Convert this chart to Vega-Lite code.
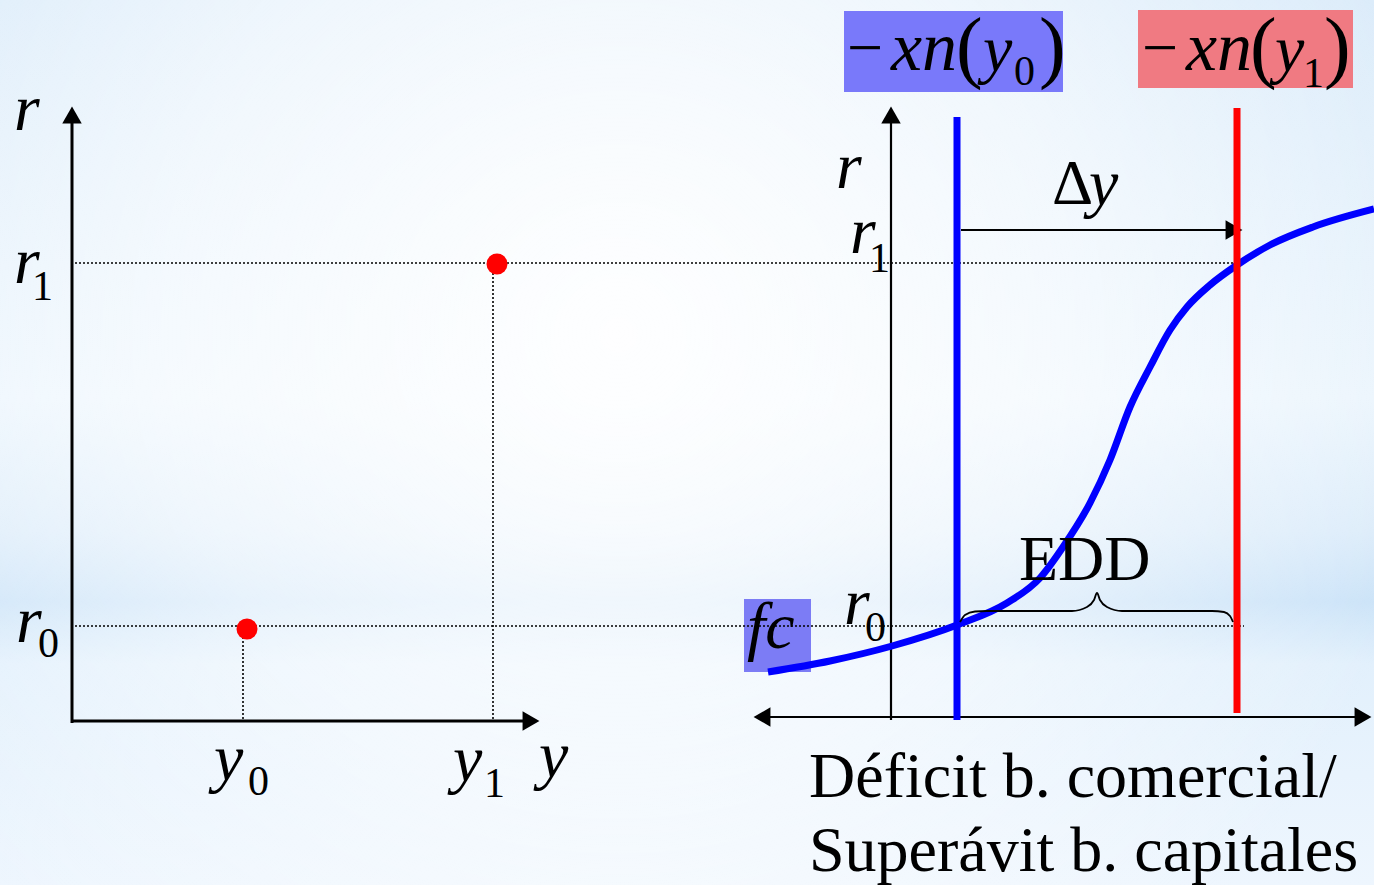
{
  "$schema": "https://vega.github.io/schema/vega-lite/v6.json",
  "width": 1374,
  "height": 885,
  "autosize": {"type": "none"},
  "padding": 0,
  "background": "#e2effb",
  "config": {"view": {"stroke": null}},
  "encoding": {
    "x": {"field": "x", "type": "quantitative", "scale": {"domain": [0, 1374], "nice": false, "zero": false}, "axis": null},
    "y": {"field": "y", "type": "quantitative", "scale": {"domain": [0, 885], "nice": false, "zero": false, "reverse": true}, "axis": null}
  },
  "layer": [
    {
      "data": {"values": [{"x": 0, "y": 0, "x2": 1374, "y2": 885}]},
      "mark": {"type": "rect", "color": {"gradient": "linear", "x1": 0, "y1": 0, "x2": 0, "y2": 1, "stops": [
        {"offset": 0, "color": "#dcecfa"},
        {"offset": 0.45, "color": "#ebf5fd"},
        {"offset": 0.6, "color": "#dcecfa"},
        {"offset": 0.68, "color": "#cbe3f8"},
        {"offset": 0.75, "color": "#e2f0fc"},
        {"offset": 1, "color": "#eef6fe"}
      ]}},
      "encoding": {"x2": {"field": "x2"}, "y2": {"field": "y2"}}
    },
    {
      "data": {"values": [{"x": 0, "y": 0, "x2": 1374, "y2": 885}]},
      "mark": {"type": "rect", "color": {"gradient": "radial", "x1": 0.45, "y1": 0.42, "r1": 0, "x2": 0.45, "y2": 0.42, "r2": 0.6, "stops": [
        {"offset": 0, "color": "rgba(255,255,255,0.95)"},
        {"offset": 0.55, "color": "rgba(255,255,255,0.55)"},
        {"offset": 1, "color": "rgba(255,255,255,0)"}
      ]}},
      "encoding": {"x2": {"field": "x2"}, "y2": {"field": "y2"}}
    },
    {
      "data": {"values": [
        {"box": "xn0", "x": 844, "y": 11, "x2": 1063, "y2": 92},
        {"box": "xn1", "x": 1138, "y": 10, "x2": 1353, "y2": 88},
        {"box": "fc", "x": 744, "y": 599, "x2": 811, "y2": 672}
      ]},
      "mark": {"type": "rect"},
      "encoding": {
        "x2": {"field": "x2"}, "y2": {"field": "y2"},
        "color": {"field": "box", "type": "nominal", "scale": {"domain": ["xn0", "xn1", "fc"], "range": ["#7979fa", "#f07a82", "#7c7cf5"]}, "legend": null}
      }
    },
    {
      "data": {"values": [
        {"x": 75, "y": 263, "x2": 1242, "y2": 263},
        {"x": 75, "y": 626, "x2": 1244, "y2": 626},
        {"x": 243, "y": 629, "x2": 243, "y2": 720},
        {"x": 493, "y": 265, "x2": 493, "y2": 720}
      ]},
      "mark": {"type": "rule", "color": "black", "strokeWidth": 1.6, "strokeDash": [2, 2]},
      "encoding": {"x2": {"field": "x2"}, "y2": {"field": "y2"}}
    },
    {
      "data": {"values": [
        {"x": 72, "y": 723, "x2": 72, "y2": 116},
        {"x": 71, "y": 721, "x2": 530, "y2": 721}
      ]},
      "mark": {"type": "rule", "color": "black", "strokeWidth": 3},
      "encoding": {"x2": {"field": "x2"}, "y2": {"field": "y2"}}
    },
    {
      "data": {"values": [
        {"x": 891, "y": 720, "x2": 891, "y2": 116},
        {"x": 765, "y": 717, "x2": 1362, "y2": 717},
        {"x": 961, "y": 230, "x2": 1232, "y2": 230}
      ]},
      "mark": {"type": "rule", "color": "black", "strokeWidth": 2.2},
      "encoding": {"x2": {"field": "x2"}, "y2": {"field": "y2"}}
    },
    {
      "data": {"values": [
        {"x": 72, "y": 115, "dir": "up"},
        {"x": 531, "y": 721, "dir": "right"},
        {"x": 891, "y": 115, "dir": "up"},
        {"x": 762, "y": 717, "dir": "left"},
        {"x": 1363, "y": 717, "dir": "right"},
        {"x": 1234, "y": 230, "dir": "right"}
      ]},
      "mark": {"type": "point", "filled": true, "color": "black", "opacity": 1, "size": 380, "strokeWidth": 0},
      "encoding": {
        "shape": {"field": "dir", "type": "nominal", "scale": {"domain": ["up", "right", "left"], "range": ["triangle-up", "triangle-right", "triangle-left"]}, "legend": null}
      }
    },
    {
      "data": {"values": [
        {"x": 957, "y": 117, "x2": 957, "y2": 720}
      ]},
      "mark": {"type": "rule", "color": "#0000ff", "strokeWidth": 7},
      "encoding": {"x2": {"field": "x2"}, "y2": {"field": "y2"}}
    },
    {
      "data": {"values": [
        {"x": 768, "y": 672},
        {"x": 830, "y": 661},
        {"x": 892, "y": 646},
        {"x": 957, "y": 625},
        {"x": 1007, "y": 603},
        {"x": 1040, "y": 578},
        {"x": 1063, "y": 547},
        {"x": 1090, "y": 503},
        {"x": 1110, "y": 460},
        {"x": 1130, "y": 407},
        {"x": 1150, "y": 367},
        {"x": 1170, "y": 330},
        {"x": 1187, "y": 307},
        {"x": 1210, "y": 285},
        {"x": 1237, "y": 265},
        {"x": 1270, "y": 245},
        {"x": 1313, "y": 227},
        {"x": 1374, "y": 209}
      ]},
      "mark": {"type": "line", "color": "#0000ff", "strokeWidth": 7, "interpolate": "monotone"},
      "encoding": {}
    },
    {
      "data": {"values": [
        {"x": 1237, "y": 108, "x2": 1237, "y2": 713}
      ]},
      "mark": {"type": "rule", "color": "#ff0000", "strokeWidth": 7},
      "encoding": {"x2": {"field": "x2"}, "y2": {"field": "y2"}}
    },
    {
      "data": {"values": [
        {"x": 960, "y": 622},
        {"x": 965, "y": 615},
        {"x": 975, "y": 611.5},
        {"x": 987, "y": 611},
        {"x": 1072, "y": 611},
        {"x": 1087, "y": 607},
        {"x": 1094, "y": 600},
        {"x": 1097, "y": 593},
        {"x": 1100, "y": 600},
        {"x": 1107, "y": 607},
        {"x": 1122, "y": 611},
        {"x": 1212, "y": 611},
        {"x": 1224, "y": 612},
        {"x": 1230, "y": 616},
        {"x": 1233, "y": 622}
      ]},
      "mark": {"type": "line", "color": "black", "strokeWidth": 1.8, "interpolate": "monotone"},
      "encoding": {}
    },
    {
      "data": {"values": [
        {"x": 497, "y": 264},
        {"x": 247, "y": 629}
      ]},
      "mark": {"type": "point", "filled": true, "color": "#ff0000", "opacity": 1, "size": 440, "strokeWidth": 0},
      "encoding": {}
    },
    {
      "data": {"values": [
        {"t": "r", "x": 14, "y": 130},
        {"t": "r", "x": 14, "y": 283},
        {"t": "r", "x": 16, "y": 642},
        {"t": "y", "x": 214, "y": 780},
        {"t": "y", "x": 453, "y": 781},
        {"t": "y", "x": 539, "y": 777},
        {"t": "r", "x": 836, "y": 188},
        {"t": "r", "x": 850, "y": 253},
        {"t": "r", "x": 844, "y": 624},
        {"t": "fc", "x": 747, "y": 648},
        {"t": "y", "x": 1089, "y": 205},
        {"t": "y", "x": 983, "y": 71},
        {"t": "y", "x": 1275, "y": 71}
      ]},
      "mark": {"type": "text", "font": "Liberation Serif", "fontSize": 66, "fontStyle": "italic", "align": "left", "baseline": "alphabetic", "color": "black"},
      "encoding": {"text": {"field": "t"}}
    },
    {
      "data": {"values": [
        {"t": "xn", "x": 891, "y": 70},
        {"t": "xn", "x": 1186, "y": 70}
      ]},
      "mark": {"type": "text", "font": "Liberation Serif", "fontSize": 70, "fontStyle": "italic", "align": "left", "baseline": "alphabetic", "color": "black"},
      "encoding": {"text": {"field": "t"}}
    },
    {
      "data": {"values": [
        {"t": "EDD", "x": 1019, "y": 580},
        {"t": "Δ", "x": 1052, "y": 204},
        {"t": "−", "x": 847, "y": 69},
        {"t": "−", "x": 1142, "y": 69},
        {"t": "Déficit b. comercial/", "x": 809, "y": 797},
        {"t": "Superávit b. capitales", "x": 809, "y": 871}
      ]},
      "mark": {"type": "text", "font": "Liberation Serif", "fontSize": 64, "align": "left", "baseline": "alphabetic", "color": "black"},
      "encoding": {"text": {"field": "t"}}
    },
    {
      "data": {"values": [
        {"t": "1", "x": 32, "y": 300},
        {"t": "0", "x": 38, "y": 657},
        {"t": "0", "x": 248, "y": 795},
        {"t": "1", "x": 484, "y": 797},
        {"t": "0", "x": 865, "y": 641},
        {"t": "1", "x": 869, "y": 272},
        {"t": "0", "x": 1014, "y": 85},
        {"t": "1", "x": 1303, "y": 87}
      ]},
      "mark": {"type": "text", "font": "Liberation Serif", "fontSize": 42, "align": "left", "baseline": "alphabetic", "color": "black"},
      "encoding": {"text": {"field": "t"}}
    },
    {
      "data": {"values": [
        {"t": "(", "x": 956, "y": 73},
        {"t": ")", "x": 1039, "y": 73},
        {"t": "(", "x": 1250, "y": 73},
        {"t": ")", "x": 1324, "y": 73}
      ]},
      "mark": {"type": "text", "font": "Liberation Serif", "fontSize": 80, "align": "left", "baseline": "alphabetic", "color": "black"},
      "encoding": {"text": {"field": "t"}}
    }
  ]
}
